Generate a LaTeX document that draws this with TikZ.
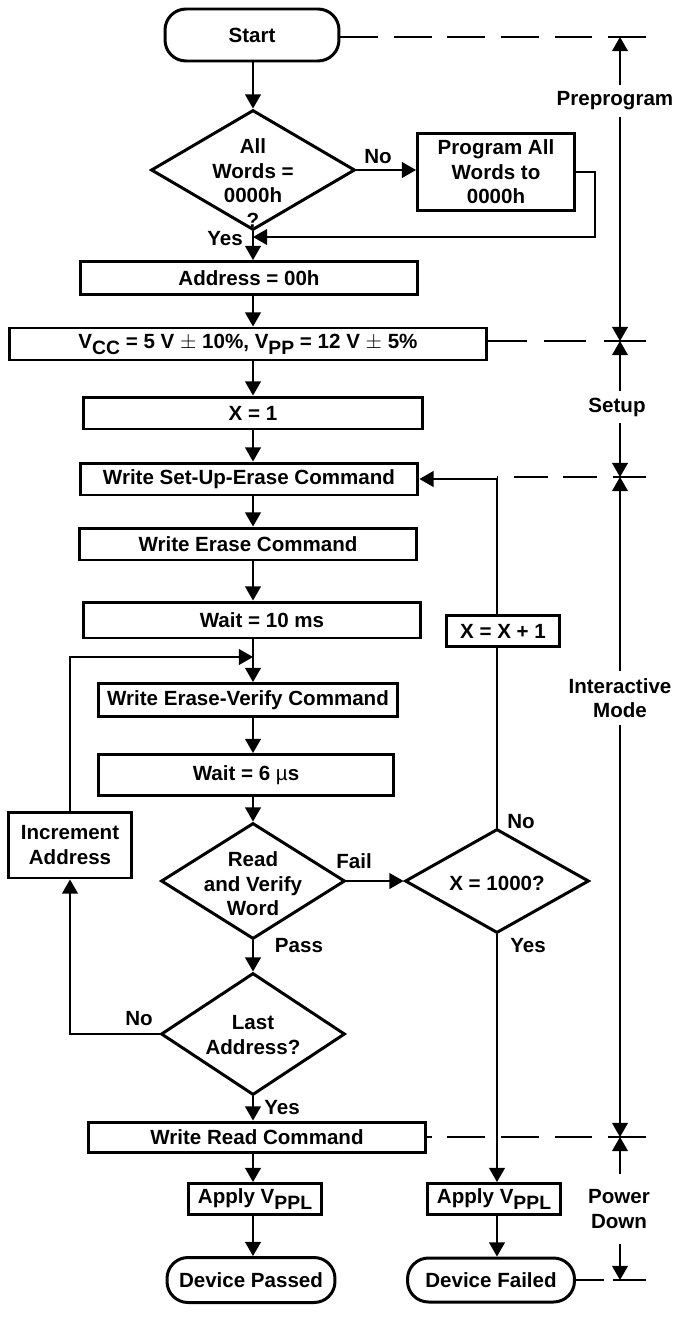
\documentclass[tikz,border=0pt]{standalone}
\usepackage{fontspec}
\setmainfont{Liberation Sans}
\usetikzlibrary{arrows.meta, shapes.geometric}
\newcommand{\lowsub}[1]{\raisebox{-0.3em}{\fontsize{11}{11}\selectfont #1}}

\begin{document}
\begin{tikzpicture}[x=0.02cm, y=-0.02cm,
		every node/.style={font=\fontsize{11.7}{13.9}\selectfont\bfseries, align=center},
		box/.style={draw, line width=1.7pt, inner sep=1pt},
		term/.style={box, rounded corners=0.42cm},
		decision/.style={draw, diamond, line width=1.7pt, inner sep=0pt},
		flow/.style={line width=0.7pt, -{Triangle[width=9pt, length=8pt]}},
		span/.style={line width=0.7pt, {Triangle[width=9pt, length=8pt]}-{Triangle[width=9pt, length=8pt]}},
		phase/.style={line width=0.7pt, dash pattern=on 21.5pt off 9pt},
		gap/.style={fill=white, inner xsep=1pt, inner ysep=4pt}]
		\useasboundingbox (0,0) rectangle (673,1335);
		\coordinate (spine) at (253,0);

		\node[term, minimum width=3.48cm, minimum height=1.04cm] (start) at (252,35) {Start};
		\node[decision, minimum width=4.08cm, minimum height=2.4cm] (allw) at (253,170) {};
		\node (allwt) at (253,183) {All\\Words =\\0000h\\?};
		\node[box, minimum width=3.14cm, minimum height=1.56cm] (prog) at (496,172) {Program All\\Words to\\0000h};
		\node[box, minimum width=6.76cm, minimum height=0.66cm] (addr) at (249,278) {Address = 00h};
		\node[box, minimum width=9.56cm, minimum height=0.64cm] (vcc) at (248,344) {V\lowsub{CC} = 5 V $\pm$ 10\%, V\lowsub{PP} = 12 V $\pm$ 5\%};
		\node[box, minimum width=6.78cm, minimum height=0.64cm] (xone) at (253,413) {X = 1};
		\node[box, minimum width=6.76cm, minimum height=0.64cm] (setup) at (249,479) {Write Set-Up-Erase Command};
		\node[box, minimum width=6.74cm, minimum height=0.64cm] (erase) at (248,544) {Write Erase Command};
		\node[box, minimum width=6.76cm, minimum height=0.72cm] (wait10) at (252,620) {\hspace{0.4cm}Wait = 10 ms};
		\node[box, minimum width=2.26cm, minimum height=0.62cm] (xinc) at (503,631) {X = X + 1};
		\node[box, minimum width=5.98cm, minimum height=0.66cm] (verify) at (248,700) {Write Erase-Verify Command};
		\node[box, minimum width=5.9cm, minimum height=0.82cm] (wait6) at (246,775) {Wait = 6 {\mdseries µ}s};
		\node[decision, minimum width=3.68cm, minimum height=2.32cm] (readv) at (253,881) {};
		\node (readvt) at (253,884) {Read\\and Verify\\Word};
		\node[decision, minimum width=3.68cm, minimum height=2.08cm] (xmax) at (497,881) {};
		\node (xmaxt) at (497,883) {X = 1000?};
		\node[box, minimum width=2.48cm, minimum height=1.32cm] (incr) at (70,845) {Increment\\Address};
		\node[decision, minimum width=3.68cm, minimum height=2.44cm] (last) at (253,1034) {};
		\node (lastt) at (253,1035) {Last\\Address?};
		\node[box, minimum width=6.76cm, minimum height=0.6cm] (wread) at (257,1137) {Write Read Command};
		\node[box, minimum width=2.66cm, minimum height=0.62cm] (vppl) at (255,1199) {Apply V\lowsub{PPL}};
		\node[box, minimum width=2.66cm, minimum height=0.62cm] (vppr) at (494,1199) {Apply V\lowsub{PPL}};
		\node[term, minimum width=3.36cm, minimum height=0.9cm] (passed) at (251,1280) {Device Passed};
		\node[term, minimum width=3.34cm, minimum height=0.88cm] (failed) at (491,1280) {Device Failed};

		\node (no1) at (378,157) {No};
		\node (yes1) at (225,239) {Yes};
		\node (fail) at (354,861) {Fail};
		\node (no2) at (521,822) {No};
		\node (yes2) at (528,946) {Yes};
		\node (pass) at (299,946) {Pass};
		\node (no3) at (139,1019) {No};
		\node (yes3) at (282,1108) {Yes};

		\coordinate (join1) at (253,237);
		\coordinate (join2) at (253,657);
		\draw[flow] (start.south -| spine) -- (allw.north);
		\draw[flow] (allw.east) -- (allw.east -| prog.west);
		\draw[flow] (prog.east) -- ++(19,0) |- (join1);
		\draw[flow] (allw.south) -- (addr.north -| spine);
		\draw[flow] (addr.south -| spine) -- (vcc.north -| spine);
		\draw[flow] (vcc.south -| spine) -- (xone.north -| spine);
		\draw[flow] (xone.south -| spine) -- (setup.north -| spine);
		\draw[flow] (setup.south -| spine) -- (erase.north -| spine);
		\draw[flow] (erase.south -| spine) -- (wait10.north -| spine);
		\draw[flow] (wait10.south -| spine) -- (verify.north -| spine);
		\draw[flow] (verify.south -| spine) -- (wait6.north -| spine);
		\draw[flow] (wait6.south -| spine) -- (readv.north);
		\draw[flow] (readv.east) -- (xmax.west);
		\draw[flow] (readv.south) -- (last.north);
		\draw[flow] (last.west) -| (incr.south);
		\draw[flow] (incr.north) |- (join2);
		\draw[flow] (last.south) -- (wread.north -| spine);
		\draw[flow] (wread.south -| spine) -- (vppl.north -| spine);
		\draw[flow] (vppl.south -| spine) -- (passed.north -| spine);
		\draw[line width=0.7pt] (xmax.north) -- (xmax.north |- xinc.south);
		\draw[flow] (xmax.north |- xinc.north) |- (setup.east);
		\draw[flow] (xmax.south) -- (xmax.south |- vppr.north);
		\draw[flow] (xmax.south |- vppr.south) -- (xmax.south |- failed.north);

		\foreach \y [count=\k from 0] in {37, 341, 477, 1137, 1280} {
			\coordinate (t\k) at (620,\y);
			\coordinate (e\k) at (646,\y);
		}
		\foreach \a/\b in {0/1, 1/2, 2/3, 3/4}
			\draw[span] (t\a) -- (t\b);
		\draw[phase] (e0) -- (e0 -| start.east);
		\draw[phase, dash pattern=on 23.8pt off 10.2pt] (e1) -- (e1 -| vcc.east);
		\draw[phase, dash pattern=on 19pt off 9pt] (e2) -- (e2 -| xmax.north);
		\draw[phase] (e3) -- (e3 -| wread.east);
		\draw[phase, dash pattern=on 19pt off 5pt] (e4) -- (e4 -| failed.east);
		\node[gap] (pre) at (615,101) {Preprogram};
		\node[gap] (stp) at (617,407) {Setup};
		\node[gap] (imode) at (620,698) {Interactive\\Mode};
		\node[gap, inner ysep=9pt] (pdown) at (619,1209) {Power\\Down};
	\end{tikzpicture}
\end{document}
